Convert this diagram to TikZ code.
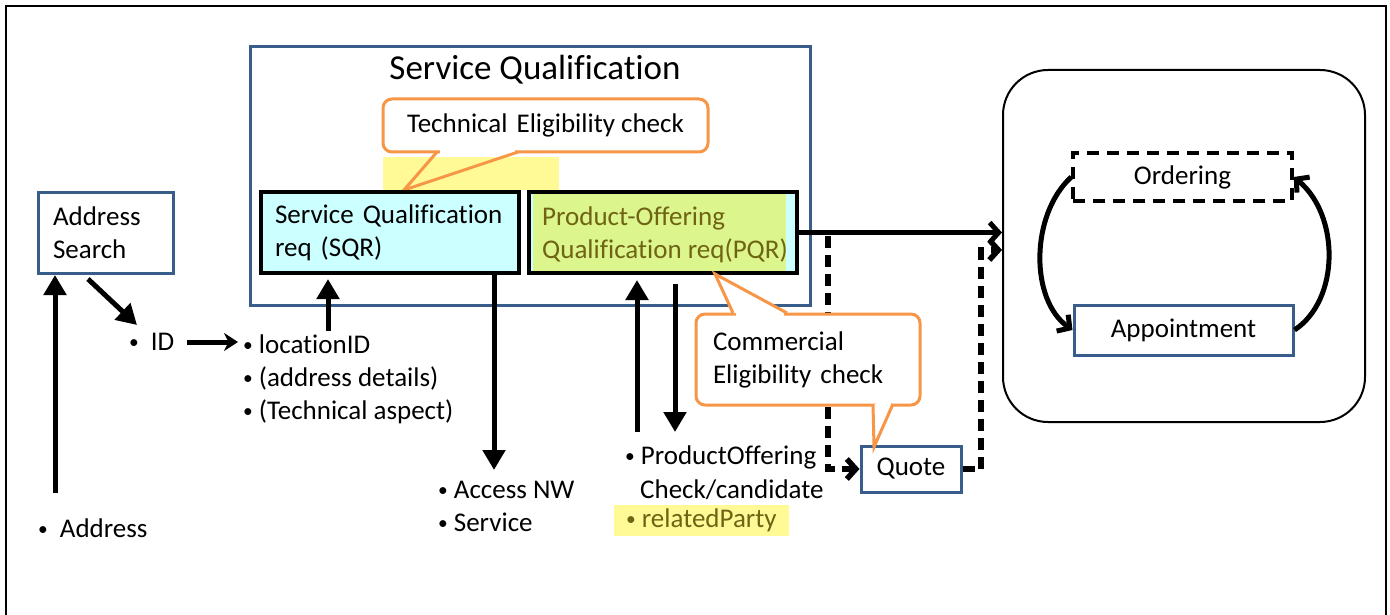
\documentclass[tikz,border=0pt]{standalone}
\usepackage{fontspec}
\setmainfont{Carlito}[Ligatures=NoCommon]
\usetikzlibrary{arrows.meta,calc}
\definecolor{bbl}{HTML}{385D8A}
\definecolor{org}{HTML}{F79646}
\definecolor{cyn}{HTML}{CCFFFF}
\definecolor{ylw}{HTML}{FFFA96}
\definecolor{grn}{HTML}{DCF58C}
\definecolor{olv}{HTML}{6E6414}
\newcommand\smbul{\raisebox{1.8pt}{\scalebox{0.72}{\textbullet}}}
\newcommand\bul{\smbul\hspace{6pt}}
\begin{document}
\begin{tikzpicture}[x=1pt,y=-1pt,
  every node/.style={font=\fontsize{27}{33}\selectfont, inner sep=0pt},
  bluebox/.style={draw=bbl, line width=3pt, fill=white},
  reqbox/.style={draw=black, line width=4pt},
  callbox/.style={draw=org, line width=3pt, fill=white, rounded corners=9pt},
  callptr/.style={draw=org, line width=3pt, line join=miter},
  arr/.style={line width=5pt, -{Triangle[length=20pt,width=22pt]}},
  barb/.style={line width=5pt, -{Straight Barb[length=9pt,width=20pt]}},
  dasharr/.style={line width=5.5pt, dash pattern=on 12pt off 7pt, -{Straight Barb[length=9pt,width=20pt]}},
  lbl/.style={anchor=west, align=left},
]
\useasboundingbox (0,0) rectangle (1390,615);
\draw[line width=2pt] (6,615) -- (6,6) -- (1386,6) -- (1386,615);

% Service Qualification frame
\node[bluebox, minimum width=560pt, minimum height=258pt] (sq) at (530,176) {};
\node[font=\fontsize{35}{42}\selectfont] (sqt) at (535,70) {Service Qualification};

% Technical callout
\node[callbox, minimum width=325pt, minimum height=53pt] (tec) at (545.5,125.5) {Technical\hspace{3pt} Eligibility check};
\fill[white] (440,150) rectangle (515,154.5);
\fill[ylw] (383,157) rectangle (559,190);
\draw[callptr] (437,152) -- (404,190) -- (518,152);

% SQR and PQR
\node[reqbox, fill=cyn, minimum width=258pt, minimum height=81pt, text width=230pt, align=left] (sqr) at (390,232.5) {Service Qualification\\req (SQR)};
\node[reqbox, fill=cyn, minimum width=268pt, minimum height=81pt] (pqr) at (663,232.5) {};
\fill[grn] (533,194) rectangle (786,271);
\node[align=left, text=olv] (pqrt) at (665,234.5) {Product-Offering\\Qualification req(PQR)};

% Address search
\node[bluebox, minimum width=135pt, minimum height=81pt, text width=105pt, align=left] (addr) at (105.5,233) {Address\\Search};

% right rounded box
\node[draw, line width=2pt, rounded corners=45pt, minimum width=362pt, minimum height=352pt] (rbox) at (1184,246) {};
\node[draw, line width=3.5pt, dash pattern=on 12pt off 8pt, minimum width=219pt, minimum height=48pt] (ord) at (1182.5,177) {Ordering};
\node[bluebox, minimum width=219pt, minimum height=50pt] (app) at (1183.5,330) {Appointment};
\draw[barb] (ord.west) .. controls (1030,215) and (1030,300) .. (app.west);
\draw[barb] (app.east) .. controls (1340,300) and (1340,215) .. (ord.east);

% Quote and dashed paths
\node[bluebox, minimum width=100pt, minimum height=46pt] (quote) at (911,469) {Quote};
\coordinate (d1) at (828,236);
\draw[dasharr] (d1) |- (quote.west);
\coordinate (d2) at (981,250);
\draw[dasharr] (quote.east) -| (d2) -- (d2 -| rbox.west);
\draw[barb] (pqr.east) -- (pqr.east -| rbox.west);

% Commercial callout
\node[callbox, minimum width=224pt, minimum height=91pt, text width=190pt, align=left] (com) at (808,359.5) {Commercial\\Eligibility check};
\fill[white] (736,311) rectangle (784,315.5);
\draw[callptr, fill=white] (733,313) -- (715,274) -- (787,313);
\fill[white] (875.5,402) rectangle (890.5,406.5);
\draw[callptr, fill=white] (873,404) -- (874,447) -- (893,404);

% left side arrows and labels
\coordinate (a1) at (55,493);
\draw[arr] (a1) -- (a1 |- addr.south);
\coordinate (a2) at (88,279);
\coordinate (a3) at (137,325);
\draw[arr] (a2) -- (a3);
\node[anchor=west] (addrt) at (38,528) {\smbul\hspace{12pt}Address};
\node[anchor=west] (id) at (129,342) {\smbul\hspace{12pt}ID};
\node[lbl] (loc) at (243,379) {\bul locationID\\\bul (address details)\\\bul (Technical aspect)};
\draw[line width=5pt, -{Stealth[length=14pt,width=18pt]}] ([xshift=13pt]id.east) -- ([xshift=-5pt]id.east -| loc.west);
\coordinate (c2) at (328,331);
\draw[arr] (c2) -- ([yshift=-4pt]c2 |- sqr.south);
\coordinate (c3) at (494,470);
\draw[arr] (c3 |- sqr.south) -- (c3);
\node[lbl] (acc) at (438,506) {\bul Access NW\\\bul Service};

% PQR arrows and labels
\coordinate (p1) at (637,432);
\draw[arr] (p1) -- ([yshift=-5pt]p1 |- pqr.south);
\coordinate (p2) at (675,432);
\draw[arr] ([yshift=-9pt]p2 |- pqr.south) -- (p2);
\node[anchor=west] (po1) at (625,457) {\bul ProductOffering};
\node[anchor=west] (po2) at (640,490) {Check/candidate};
\node[anchor=west, fill=ylw, text=olv, minimum height=31pt, inner xsep=12pt] (rp) at (614,520) {\bul relatedParty};
\end{tikzpicture}
\end{document}
